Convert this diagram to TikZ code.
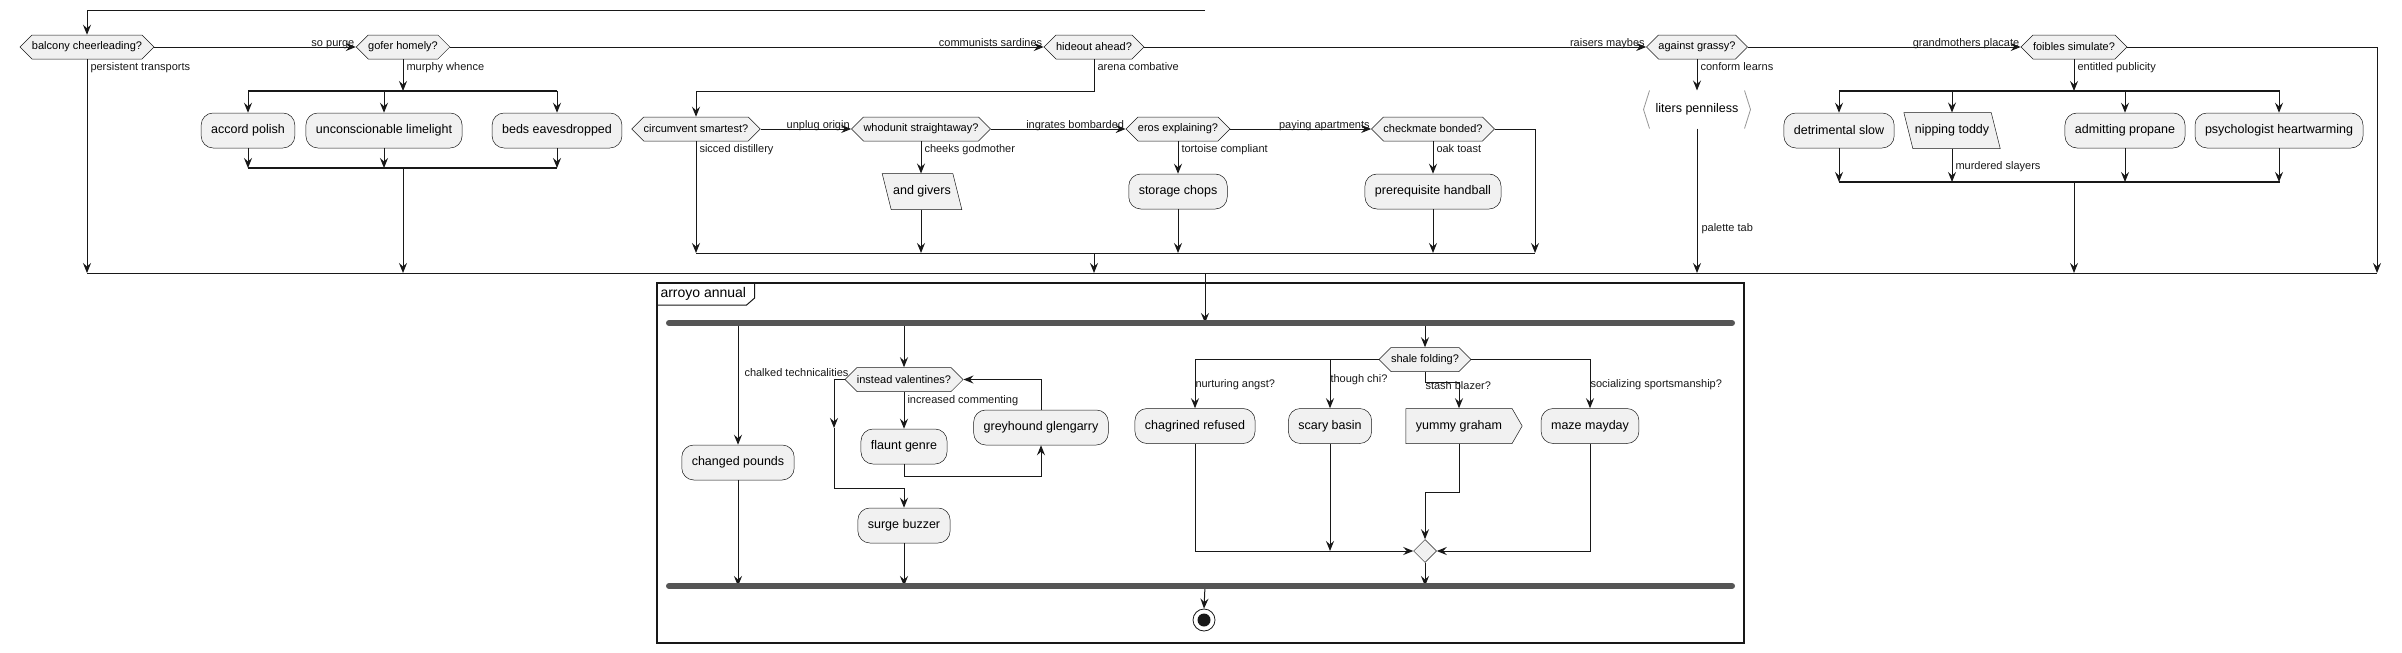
\documentclass[tikz,border=0pt]{standalone}
\usepackage{fontspec}
\setmainfont{Liberation Sans}
\usetikzlibrary{arrows.meta,calc,shapes.geometric,shapes.symbols,backgrounds}
\definecolor{BoxFill}{RGB}{241,241,241}
\definecolor{LineDark}{RGB}{24,24,24}
\definecolor{BarGray}{RGB}{85,85,85}
\definecolor{BracketGray}{RGB}{150,150,150}

\begin{document}
\begin{tikzpicture}[x=1pt,y=-1pt,>={Stealth[length=10pt,width=8pt,inset=3.5pt]},
    line width=1pt,
    every node/.style={font=\fontsize{11}{13}\selectfont},
    act/.style={draw=LineDark,line width=0.5pt,fill=BoxFill,rounded corners=12pt,
      minimum height=35pt,inner xsep=10pt,font=\fontsize{12.5}{15}\selectfont},
    cond/.style={draw=LineDark,line width=0.5pt,fill=BoxFill,signal,
      signal to=east and west,minimum height=24pt,inner xsep=0pt,inner ysep=0pt},
    lean/.style={minimum height=35pt,inner xsep=6pt,font=\fontsize{12.5}{15}\selectfont},
    leanshape/.style={draw=LineDark,line width=0.5pt,fill=BoxFill},
    flag/.style={draw=LineDark,line width=0.5pt,fill=BoxFill,signal,signal to=east,
      signal pointer angle=120,minimum height=35pt,inner xsep=10pt,
      font=\fontsize{12.5}{15}\selectfont},
    toplbl/.style={anchor=base east,inner sep=0pt,yshift=1pt,xshift=-1pt},
    downlbl/.style={anchor=north west,inner xsep=3pt,inner ysep=3pt},
    sidelbl/.style={anchor=west,inner sep=0pt},
    flow/.style={->,LineDark},
    splitbar/.style={LineDark,line width=1.5pt},
    forkbar/.style={BarGray,line width=6pt,line cap=round}]
  \useasboundingbox (0,0) rectangle (2402,653);

  \coordinate (loopR) at (1205,10);
  \coordinate (mergeL) at (87,273);
  \coordinate (mergeR) at (2377,273);

  \node[cond] (balcony) at (87,47) {balcony cheerleading?};
  \node[cond] (gofer) at (403,47) {gofer homely?};
  \node[cond] (hideout) at (1094,47) {hideout ahead?};
  \node[cond] (against) at (1697,47) {against grassy?};
  \node[cond] (foibles) at (2074,47) {foibles simulate?};

  \draw[flow] (loopR) -- (loopR -| balcony) -- (balcony.north);
  \draw[flow] (balcony.east) -- node[pos=1,toplbl]{so purge} (gofer.west);
  \draw[flow] (gofer.east) -- node[pos=1,toplbl]{communists sardines} (hideout.west);
  \draw[flow] (hideout.east) -- node[pos=1,toplbl]{raisers maybes} (against.west);
  \draw[flow] (against.east) -- node[pos=1,toplbl]{grandmothers placate} (foibles.west);
  \draw[flow] (balcony.south) -- node[pos=0,downlbl]{persistent transports} (balcony |- mergeL);

  \coordinate (splitA) at (248,91);
  \coordinate (splitB) at (557,91);
  \coordinate (joinA) at (248,168);
  \coordinate (joinB) at (557,168);
  \node[act] (accord) at (248,130.5) {accord polish};
  \node[act] (limelight) at (384,130.5) {unconscionable limelight};
  \node[act] (beds) at (557,130.5) {beds eavesdropped};
  \draw[flow] (gofer.south) -- node[pos=0,downlbl]{murphy whence} (gofer |- splitA);
  \foreach \n in {accord,limelight,beds}{
    \draw[flow] (\n |- splitA) -- (\n.north);
    \draw[flow] (\n.south) -- (\n |- joinA);
  }
  \draw[splitbar] (splitA) -- (splitB);
  \draw[splitbar] (joinA) -- (joinB);
  \draw[flow] (gofer |- joinA) -- (gofer |- mergeL);

  \coordinate (joinC) at (696,253);
  \coordinate (joinD) at (1535,253);
  \coordinate (cmRight) at (1535,129);
  \node[cond] (circumvent) at (696,129) {circumvent smartest?};
  \node[cond] (whodunit) at (921,129) {whodunit straightaway?};
  \node[cond] (eros) at (1178,129) {eros explaining?};
  \node[cond] (checkmate) at (1433,129) {checkmate bonded?};
  \node[lean] (givers) at (922,191.5) {and givers};
  \node[act] (storage) at (1178,191.5) {storage chops};
  \node[act] (handball) at (1433,191.5) {prerequisite handball};
  \draw[flow] (hideout.south) -- node[pos=0,downlbl]{arena combative} (hideout |- splitA) -| (circumvent.north);
  \draw[flow] (circumvent.east) -- node[pos=1,toplbl]{unplug origin} (whodunit.west);
  \draw[flow] (whodunit.east) -- node[pos=1,toplbl]{ingrates bombarded} (eros.west);
  \draw[flow] (eros.east) -- node[pos=1,toplbl]{paying apartments} (checkmate.west);
  \draw[flow] (circumvent.south) -- node[pos=0,downlbl]{sicced distillery} (circumvent |- joinC);
  \draw[flow] (whodunit.south) -- node[pos=0,downlbl]{cheeks godmother} (whodunit |- givers.north);
  \draw[flow] (eros.south) -- node[pos=0,downlbl]{tortoise compliant} (storage.north);
  \draw[flow] (checkmate.south) -- node[pos=0,downlbl]{oak toast} (handball.north);
  \draw[flow] (whodunit |- givers.south) -- (whodunit |- joinC);
  \draw[flow] (storage.south) -- (storage |- joinC);
  \draw[flow] (handball.south) -- (handball |- joinC);
  \draw[flow] (checkmate.east) -- (cmRight) -- (joinD);
  \draw[LineDark] (joinC) -- (joinD);
  \draw[flow] (hideout |- joinC) -- (hideout |- mergeL);

  \node[minimum width=94pt,minimum height=37pt,inner sep=0pt,
    font=\fontsize{12.5}{15}\selectfont] (liters) at (1697,109.5) {liters penniless};
  \draw[BracketGray,line width=0.8pt] (liters.north west) -- ($(liters.west)+(-6,0)$) -- (liters.south west);
  \draw[BracketGray,line width=0.8pt] (liters.north east) -- ($(liters.east)+(6,0)$) -- (liters.south east);
  \draw[flow] (against.south) -- node[pos=0,downlbl]{conform learns} (liters.north);
  \draw[flow] (liters.south) -- node[pos=0.69,sidelbl,xshift=4pt]{palette tab} (liters |- mergeL);

  \coordinate (splitE) at (1839,91);
  \coordinate (splitF) at (2280,91);
  \coordinate (joinE) at (1839,182);
  \coordinate (joinF) at (2280,182);
  \node[act] (detrimental) at (1839,130.5) {detrimental slow};
  \node[lean] (nipping) at (1952,130.5) {nipping toddy};
  \node[act] (propane) at (2125,130.5) {admitting propane};
  \node[act] (psychologist) at (2279,130.5) {psychologist heartwarming};
  \draw[flow] (foibles.south) -- node[pos=0,downlbl]{entitled publicity} (foibles |- splitE);
  \foreach \n in {detrimental,nipping,propane,psychologist}{
    \draw[flow] (\n |- splitE) -- (\n.north);
  }
  \draw[flow] (detrimental.south) -- (detrimental |- joinE);
  \draw[flow] (nipping.south) -- node[pos=0.53,sidelbl,xshift=3pt]{murdered slayers} (nipping |- joinE);
  \draw[flow] (propane.south) -- (propane |- joinE);
  \draw[flow] (psychologist.south) -- (psychologist |- joinE);
  \draw[splitbar] (splitE) -- (splitF);
  \draw[splitbar] (joinE) -- (joinF);
  \draw[flow] (foibles |- joinE) -- (foibles |- mergeL);
  \draw[flow] (foibles.east) -- (foibles.east -| mergeR) -- (mergeR);

  \begin{scope}[on background layer]
    \foreach \n in {givers,nipping}{
      \draw[leanshape] ([xshift=-4.5pt]\n.north west) -- ([xshift=-4.5pt]\n.north east)
        -- ([xshift=4.5pt]\n.south east) -- ([xshift=4.5pt]\n.south west) -- cycle;
    }
  \end{scope}

  \draw[LineDark] (mergeL) -- (mergeR);

  \coordinate (partNW) at (657,283);
  \coordinate (partSE) at (1744,643);
  \draw[LineDark,line width=1.2pt] (partNW) rectangle (partSE);
  \node[anchor=north west,inner xsep=3pt,inner ysep=0pt,minimum height=21pt,
    font=\fontsize{14}{16}\selectfont] (partTitle) at (partNW) {arroyo annual};
  \draw[LineDark] ([xshift=5pt]partTitle.north east) -- ([xshift=5pt,yshift=7pt]partTitle.south east)
    -- ([xshift=-3pt]partTitle.south east) -- (partTitle.south west);

  \coordinate (entry) at (1205,273);
  \coordinate (forkL) at (669,323);
  \coordinate (forkR) at (1732,323);
  \coordinate (joinL) at (669,586);
  \coordinate (joinR) at (1732,586);
  \draw[flow] (entry) -- (entry |- forkL);

  \node[act] (pounds) at (738,462.5) {changed pounds};
  \draw[flow] (pounds |- forkL) -- node[pos=0.41,sidelbl,xshift=6pt]{chalked technicalities} (pounds.north);
  \draw[flow] (pounds.south) -- (pounds |- joinL);

  \coordinate (vloopA) at (834,428);
  \coordinate (vloopB) at (834,488);
  \coordinate (flauntLow) at (904,476);
  \node[cond] (valentines) at (904,379.5) {instead valentines?};
  \node[act] (flaunt) at (904,446.5) {flaunt genre};
  \node[act] (greyhound) at (1041,427.5) {greyhound glengarry};
  \node[act] (surge) at (904,525.5) {surge buzzer};
  \draw[flow] (valentines |- forkL) -- (valentines.north);
  \draw[flow] (valentines.south) -- node[pos=0,downlbl]{increased commenting} (flaunt.north);
  \draw[flow] (flaunt.south) -- (flauntLow) -| (greyhound.south);
  \draw[flow] (greyhound.north) |- (valentines.east);
  \draw[flow] (valentines.west) -| (vloopA);
  \draw[flow] (vloopA) -- (vloopB) -| (surge.north);
  \draw[flow] (surge.south) -- (surge |- joinL);

  \coordinate (stashTurn) at (1425,382);
  \node[cond] (shale) at (1425,359.5) {shale folding?};
  \node[act] (chagrined) at (1195,426) {chagrined refused};
  \node[act] (scary) at (1330,426) {scary basin};
  \node[flag] (yummy) at (1459,426) {yummy graham};
  \node[act] (maze) at (1590,426) {maze mayday};
  \node[diamond,draw=LineDark,line width=0.5pt,fill=BoxFill,minimum width=23pt,
    minimum height=23pt,inner sep=0pt] (merge) at (1425,551) {};
  \draw[flow] (shale |- forkL) -- (shale.north);
  \draw[flow] (shale.west) -| node[pos=0.76,sidelbl]{nurturing angst?} (chagrined.north);
  \draw[flow] (shale.west) -| node[pos=0.71,sidelbl]{though chi?} (scary.north);
  \draw[flow] (shale.south) -- (stashTurn) node[sidelbl,yshift=-4pt]{stash blazer?} -| (yummy.north);
  \draw[flow] (shale.east) -| node[pos=0.76,sidelbl]{socializing sportsmanship?} (maze.north);
  \draw[flow] (chagrined.south) |- (merge.west);
  \draw[flow] (scary.south) -- (scary |- merge);
  \draw[flow] (yummy.south) -- ++(0,49) -| (merge.north);
  \draw[flow] (maze.south) |- (merge.east);
  \draw[flow] (merge.south) -- (merge |- joinL);

  \node[circle,draw=LineDark,line width=0.8pt,fill=white,minimum size=22pt,inner sep=0pt,
    path picture={\fill[LineDark] (path picture bounding box.center) circle (6.5pt);}] (stop) at (1204,620) {};
  \draw[flow] (entry |- joinL) -- (stop.north);

  \draw[forkbar] (forkL) -- (forkR);
  \draw[forkbar] (joinL) -- (joinR);
\end{tikzpicture}
\end{document}
